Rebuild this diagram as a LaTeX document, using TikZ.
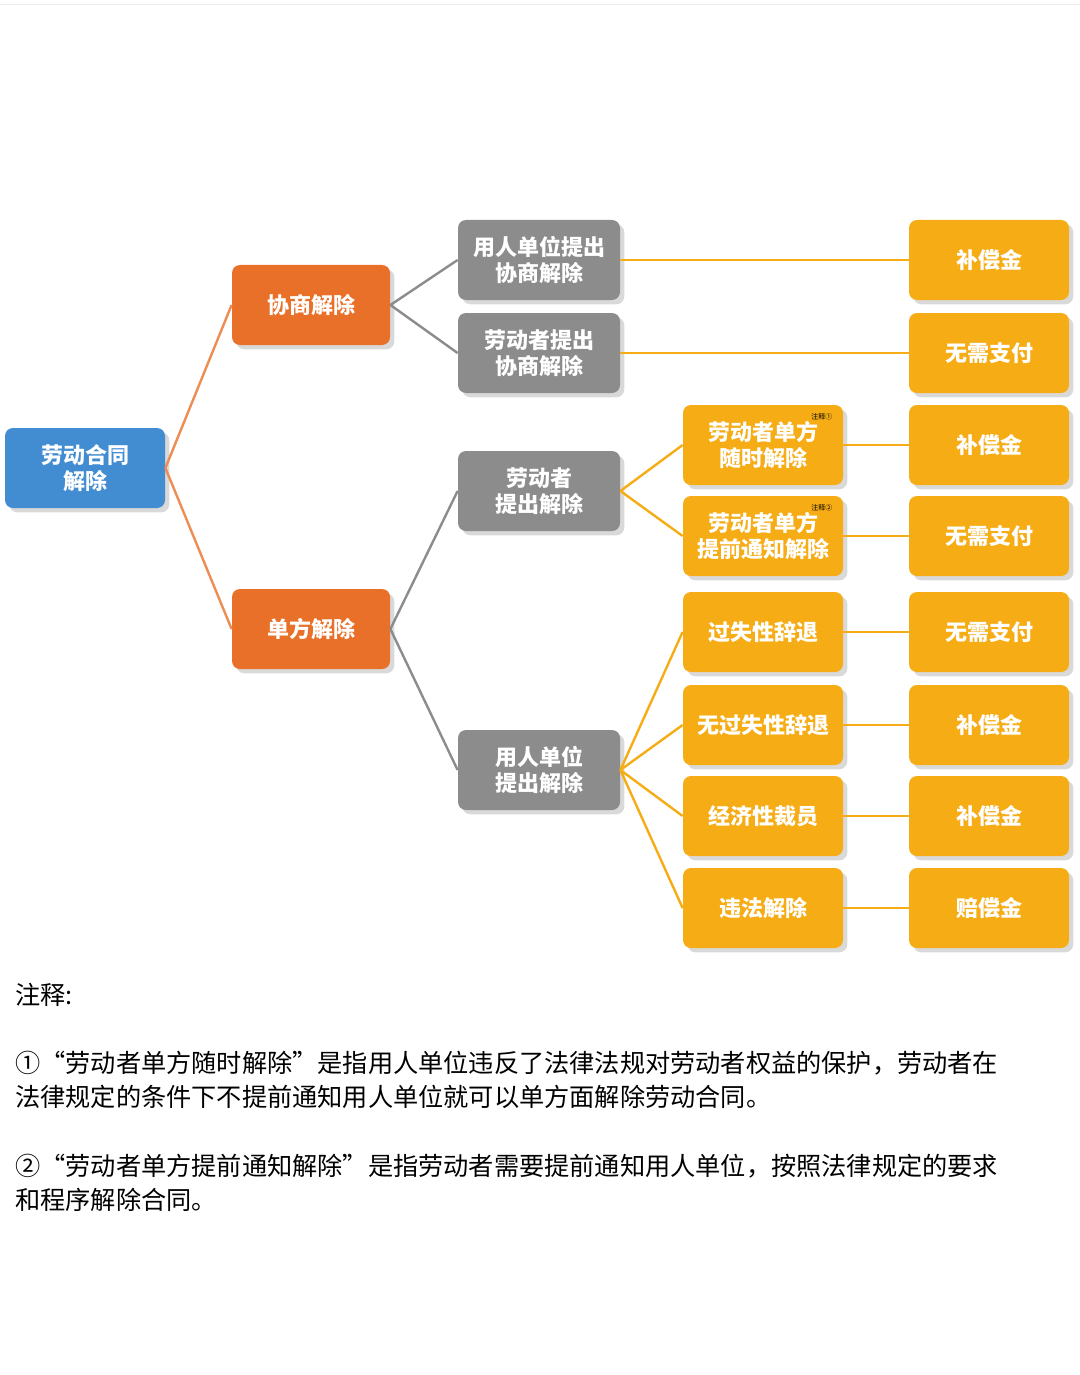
\documentclass[tikz,border=0pt]{standalone}
\usepackage{fontspec}
\newfontfamily\cjk{Noto Sans CJK SC}
\usetikzlibrary{shadows}
\definecolor{rootblue}{RGB}{66,140,210}
\definecolor{mainorange}{RGB}{232,112,40}
\definecolor{midgray}{RGB}{140,140,140}
\definecolor{leafyellow}{RGB}{246,172,20}
\tikzset{
  box/.style={rounded corners=4pt, minimum width=80pt, minimum height=40pt, align=center,
    text=white, font=\cjk\bfseries\fontsize{11}{13}\selectfont, drop shadow={opacity=0.3}},
  rootbox/.style={box, fill=rootblue},
  mainbox/.style={box, fill=mainorange, minimum width=79pt},
  graybox/.style={box, fill=midgray, minimum width=81pt},
  leafbox/.style={box, fill=leafyellow, minimum width=80pt},
  link/.style={line width=1.2pt},
  note/.style={font=\cjk\fontsize{3.5}{4}\selectfont, text=black}
}
\begin{document}
\begin{tikzpicture}[x=0.5pt, y=-0.5pt]
  \useasboundingbox (0,0) rectangle (1080,1375);
  \draw[black!8] (0,4) -- (1080,4);
  % tree
  \node[rootbox] (root) at (85,468) {劳动合同\\解除};
  \node[mainbox] (xs) at (311,305) {协商解除};
  \node[mainbox] (df) at (311,629) {单方解除};
  \node[graybox] (g1) at (539,260) {用人单位提出\\协商解除};
  \node[graybox] (g2) at (539,353) {劳动者提出\\协商解除};
  \node[graybox] (g3) at (539,491) {劳动者\\提出解除};
  \node[graybox] (g4) at (539,770) {用人单位\\提出解除};
  \node[leafbox] (m1) at (763,445) {劳动者单方\\随时解除};
  \node[leafbox] (m2) at (763,536) {劳动者单方\\提前通知解除};
  \node[leafbox] (m3) at (763,632) {过失性辞退};
  \node[leafbox] (m4) at (763,725) {无过失性辞退};
  \node[leafbox] (m5) at (763,816) {经济性裁员};
  \node[leafbox] (m6) at (763,908) {违法解除};
  \node[note, anchor=north east] at ([xshift=-2pt,yshift=-1pt]m1.north east) {注释①};
  \node[note, anchor=north east] at ([xshift=-2pt,yshift=-1pt]m2.north east) {注释②};
  \node[leafbox] (r1) at (989,260) {补偿金};
  \node[leafbox] (r2) at (989,353) {无需支付};
  \node[leafbox] (r3) at (989,445) {补偿金};
  \node[leafbox] (r4) at (989,536) {无需支付};
  \node[leafbox] (r5) at (989,632) {无需支付};
  \node[leafbox] (r6) at (989,725) {补偿金};
  \node[leafbox] (r7) at (989,816) {补偿金};
  \node[leafbox] (r8) at (989,908) {赔偿金};
  % connectors
  \draw[link, mainorange!80] (root.east) -- (xs.west);
  \draw[link, mainorange!80] (root.east) -- (df.west);
  \foreach \g in {g1,g2} \draw[link, midgray] (xs.east) -- (\g.west);
  \foreach \g in {g3,g4} \draw[link, midgray] (df.east) -- (\g.west);
  \draw[link, leafyellow] (g1.east) -- (r1.west);
  \draw[link, leafyellow] (g2.east) -- (r2.west);
  \foreach \m in {m1,m2} \draw[link, leafyellow] (g3.east) -- (\m.west);
  \foreach \m in {m3,m4,m5,m6} \draw[link, leafyellow] (g4.east) -- (\m.west);
  \foreach \m/\r in {m1/r3,m2/r4,m3/r5,m4/r6,m5/r7,m6/r8} \draw[link, leafyellow] (\m.east) -- (\r.west);
  % notes
  \begin{scope}[every node/.style={anchor=west, inner sep=0pt, font=\cjk\fontsize{12.6}{17}\selectfont}]
    \node (n0) at (15,995) {注释:};
    \node (n1) at (15,1063) {①“劳动者单方随时解除”是指用人单位违反了法律法规对劳动者权益的保护，劳动者在};
    \node (n2) at (15,1097) {法律规定的条件下不提前通知用人单位就可以单方面解除劳动合同。};
    \node (n3) at (15,1166) {②“劳动者单方提前通知解除”是指劳动者需要提前通知用人单位，按照法律规定的要求};
    \node (n4) at (15,1200) {和程序解除合同。};
  \end{scope}
\end{tikzpicture}
\end{document}
